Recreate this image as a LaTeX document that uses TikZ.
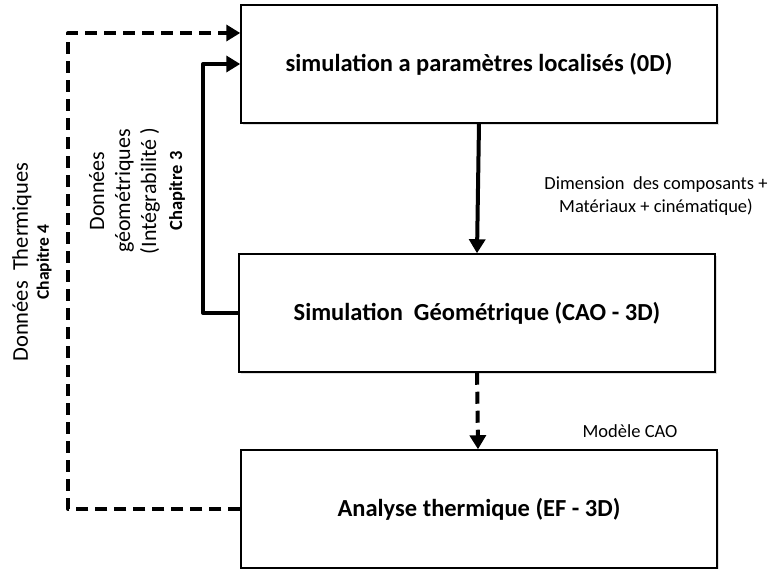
\documentclass[tikz,border=0pt]{standalone}
\usepackage{fontspec}
\setmainfont{Carlito}
\usetikzlibrary{arrows.meta,shadows}
\begin{document}
\begin{tikzpicture}[x=1pt, y=-1pt,
    block/.style={draw, line width=1.5pt, fill=white, minimum width=476pt, minimum height=118pt,
        font=\bfseries\fontsize{24.5}{29}\selectfont,
        drop shadow={opacity=0.25, shadow xshift=2pt, shadow yshift=-2pt}},
    flow/.style={line width=4pt, -{Triangle[length=14pt, width=16pt]}},
    dashflow/.style={flow, dash pattern=on 12pt off 7pt},
    note/.style={align=center, font=\fontsize{18.5}{23}\selectfont}
]
\useasboundingbox (0,0) rectangle (772,569);

\node[block] (sim0d) at (479,64) {simulation a paramètres localisés (0D)};
\node[block] (cao) at (477,313) {Simulation\ \ Géométrique (CAO - 3D)};
\node[block] (ef) at (479,509) {Analyse thermique (EF - 3D)};

\coordinate (in3) at (sim0d.west);
\coordinate (in4) at ([yshift=31pt]sim0d.west);

\draw[flow] (sim0d.south) -- (cao.north);
\draw[dashflow] (cao.south) -- ([xshift=-1pt]ef.north);
\draw[flow, line join=round] (cao.west) -- ++(-35,0) |- (in3);
\draw[dashflow, line join=round] (ef.west) -- ++(-172,0) |- (in4);

\node[note] (dim) at (656,196) {Dimension\ \ des composants +\\Matériaux + cinématique)};
\node[note] (modele) at (630,431) {Modèle CAO};

\node[rotate=90, align=center, font=\fontsize{22.5}{21}\selectfont] (therm) at (32,262)
    {Données\ \ Thermiques\\{\bfseries\fontsize{17.5}{21}\selectfont Chapitre 4}};
\node[rotate=90, align=center, font=\fontsize{22}{26}\selectfont] (geom) at (137,191)
    {Données\\géométriques\\(Intégrabilité )\\{\bfseries\fontsize{18.5}{24}\selectfont Chapitre 3}};

\end{tikzpicture}
\end{document}
